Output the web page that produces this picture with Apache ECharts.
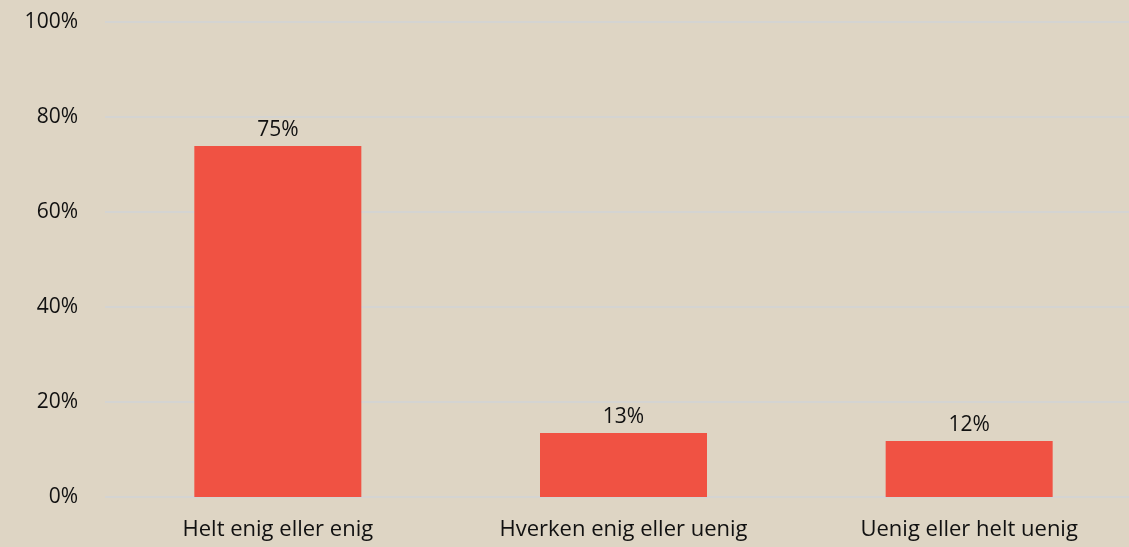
<!DOCTYPE html>
<html>
<head>
<meta charset="utf-8">
<script src="https://cdn.jsdelivr.net/npm/echarts@6/dist/echarts.min.js"></script>
<style>
  html, body {margin: 0; padding: 0; background: #DED5C4;}
  #chart {width: 1129px; height: 547px;}
</style>
</head>
<body>
<div id="chart"></div>
<script>
var categories = ['Helt enig eller enig', 'Hverken enig eller uenig', 'Uenig eller helt uenig'];
var values = [73.9, 13.5, 11.8];
var valueLabels = ['75%', '13%', '12%'];
var yTicks = [0, 20, 40, 60, 80, 100];

var myChart = echarts.init(document.getElementById('chart'));
myChart.setOption({
  backgroundColor: '#DED5C4',
  textStyle: {fontFamily: 'Open Sans'},
  grid: {left: 105, width: 1037, top: 22, bottom: 50, outerBoundsMode: 'none', containLabel: false},
  xAxis: {
    type: 'category',
    data: categories,
    axisLine: {show: false},
    axisTick: {show: false},
    axisLabel: {color: '#111', fontSize: 22, margin: 22}
  },
  yAxis: {
    type: 'value',
    min: yTicks[0],
    max: yTicks[yTicks.length - 1],
    interval: 20,
    splitLine: {lineStyle: {color: '#D4D4D2', width: 2}},
    axisLabel: {
      color: '#111',
      fontSize: 21,
      margin: 27,
      formatter: function (val) { return val + '%'; }
    }
  },
  series: [{
    type: 'bar',
    data: values,
    barWidth: 167,
    itemStyle: {color: '#F05243'},
    label: {
      show: true,
      position: 'top',
      distance: 5,
      color: '#111',
      fontSize: 21,
      formatter: function (p) { return valueLabels[p.dataIndex]; }
    }
  }]
});
</script>
</body>
</html>
